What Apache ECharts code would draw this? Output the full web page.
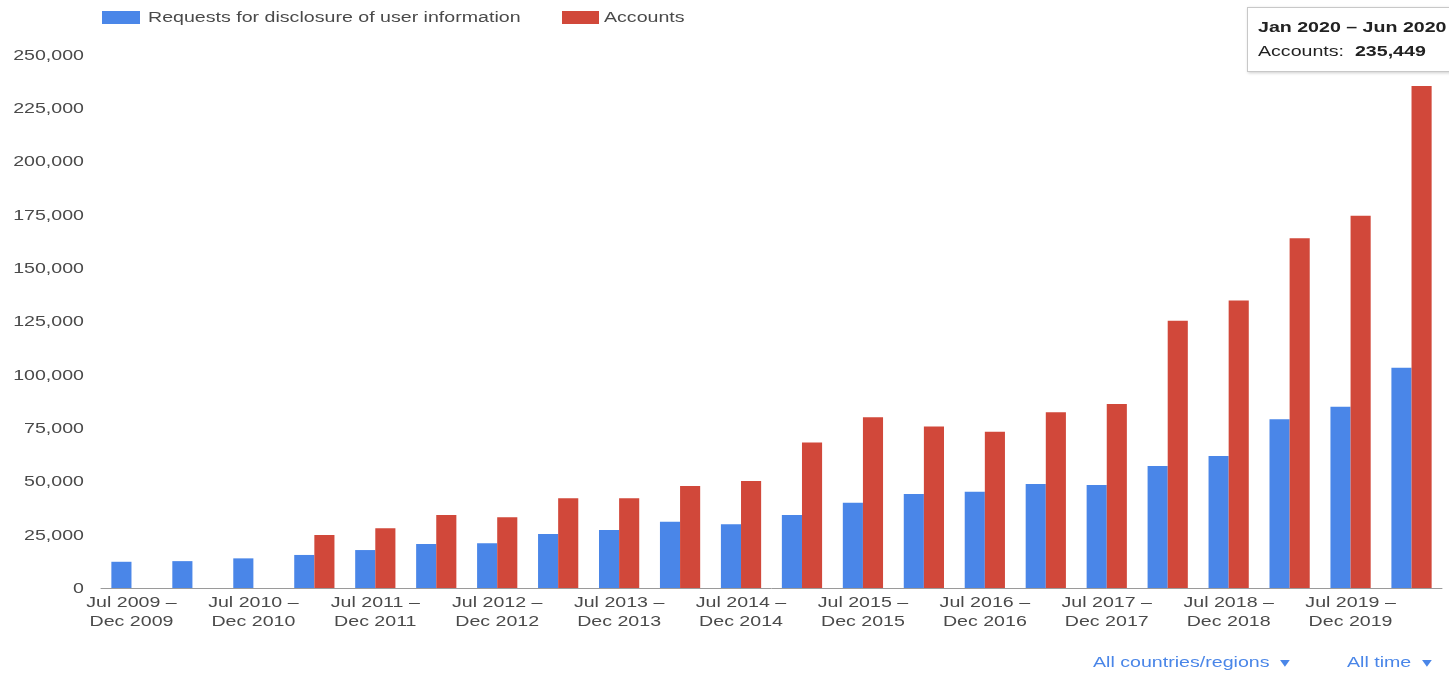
<!DOCTYPE html>
<html>
<head>
<meta charset="utf-8">
<script src="https://cdn.jsdelivr.net/npm/echarts@6/dist/echarts.min.js"></script>
<style>
html,body{margin:0;padding:0;background:#fff;overflow:hidden;}
#chart{width:1449px;height:675px;}
</style>
</head>
<body>
<div id="chart"></div>
<script>
const categories = [
  "Jul 2009 – Dec 2009","Jan 2010 – Jun 2010","Jul 2010 – Dec 2010","Jan 2011 – Jun 2011",
  "Jul 2011 – Dec 2011","Jan 2012 – Jun 2012","Jul 2012 – Dec 2012","Jan 2013 – Jun 2013",
  "Jul 2013 – Dec 2013","Jan 2014 – Jun 2014","Jul 2014 – Dec 2014","Jan 2015 – Jun 2015",
  "Jul 2015 – Dec 2015","Jan 2016 – Jun 2016","Jul 2016 – Dec 2016","Jan 2017 – Jun 2017",
  "Jul 2017 – Dec 2017","Jan 2018 – Jun 2018","Jul 2018 – Dec 2018","Jan 2019 – Jun 2019",
  "Jul 2019 – Dec 2019","Jan 2020 – Jun 2020"
];
const requests = [12300, 12600, 13900, 15500, 17800, 20600, 21000, 25300, 27200, 31100, 29900,
  34200, 40000, 44100, 45200, 48800, 48300, 57200, 61900, 79100, 85000, 103300];
const accounts = [null, null, null, 24900, 28000, 34200, 33200, 42100, 42100, 47800, 50200,
  68200, 80100, 75700, 73300, 82400, 86300, 125400, 134800, 164000, 174600, 235449];
const yTicks = [0, 25000, 50000, 75000, 100000, 125000, 150000, 175000, 200000, 225000, 250000];
const seriesNames = ["Requests for disclosure of user information", "Accounts"];
const filterLabels = ["All countries/regions  ▾", "All time  ▾"];
const colors = ['#4A86E8', '#D1483A'];

const fmt = v => v.toLocaleString('en-US');
const FONT = "'Liberation Sans', Arial, sans-serif";
const SX = 1.4;            // horizontal stretch of the reference's text
const TXT = '#4a4a4a';

const chart = echarts.init(document.getElementById('chart'), null, {renderer: 'canvas'});
chart.setOption({
  animation: false,
  textStyle: { fontFamily: FONT },
  color: colors,
  legend: { show: false, data: seriesNames },
  grid: { left: 101, right: 7, top: 55, bottom: 87, containLabel: false },
  tooltip: {
    trigger: 'item',
    alwaysShowContent: true,
    transitionDuration: 0,
    position: [1247, 7],
    backgroundColor: '#fff',
    borderColor: '#c8c8c8',
    borderWidth: 1,
    padding: [7, 0, 8, 10],
    extraCssText: 'box-shadow:1px 1px 3px rgba(0,0,0,0.2);border-radius:0;width:230px;overflow:hidden;',
    formatter: p => '<div style="font-family:Liberation Sans,Arial;font-size:14px;color:#222;line-height:24px;'
      + 'transform:scaleX(' + SX + ');transform-origin:0 0;white-space:nowrap;width:160px">'
      + '<b>' + p.name + '</b><br/>' + p.seriesName + ':&nbsp; <b>' + fmt(p.value) + '</b></div>'
  },
  xAxis: {
    type: 'category',
    data: categories,
    axisLine: { lineStyle: { color: '#9a9a9a' } },
    axisTick: { show: false },
    axisLabel: { show: false }
  },
  yAxis: {
    type: 'value',
    min: yTicks[0], max: yTicks[yTicks.length - 1], interval: yTicks[1] - yTicks[0],
    axisLine: { show: false },
    axisTick: { show: false },
    splitLine: { show: false },
    axisLabel: { show: false }
  },
  series: [
    { name: seriesNames[0], type: 'bar', data: requests, barGap: '0%', barCategoryGap: '34%' },
    { name: seriesNames[1], type: 'bar', data: accounts, barGap: '0%', barCategoryGap: '34%' }
  ]
});

// text stretched horizontally, placed with the chart's own scales
const g = [];
const txt = (x, y, text, align, vAlign, extra) => Object.assign({
  type: 'text', x: x, y: y, scaleX: SX, silent: true,
  style: Object.assign({ text: text, fill: TXT, font: '14px ' + FONT, align: align, verticalAlign: vAlign }, extra || {})
});
yTicks.forEach(v => {
  const py = chart.convertToPixel({ yAxisIndex: 0 }, v);
  g.push(txt(84, py + 1, fmt(v), 'right', 'middle'));
});
categories.forEach((c, i) => {
  if (i % 2) return;
  const px = chart.convertToPixel({ xAxisIndex: 0 }, c);
  g.push(txt(px, 594, c.replace(' – ', ' –\n'), 'center', 'top', { lineHeight: 19 }));
});
// legend
g.push({ type: 'rect', shape: { x: 102, y: 11, width: 38, height: 13 }, style: { fill: colors[0] }, silent: true });
g.push(txt(148, 18, seriesNames[0], 'left', 'middle'));
g.push({ type: 'rect', shape: { x: 562, y: 11, width: 37, height: 13 }, style: { fill: colors[1] }, silent: true });
g.push(txt(604, 18, seriesNames[1], 'left', 'middle'));
// filters
g.push(txt(1093, 663, filterLabels[0], 'left', 'middle', { fill: '#4A86E8' }));
g.push(txt(1347, 663, filterLabels[1], 'left', 'middle', { fill: '#4A86E8' }));
chart.setOption({ graphic: g });

chart.dispatchAction({ type: 'showTip', seriesIndex: 1, dataIndex: 21 });
</script>
</body>
</html>
